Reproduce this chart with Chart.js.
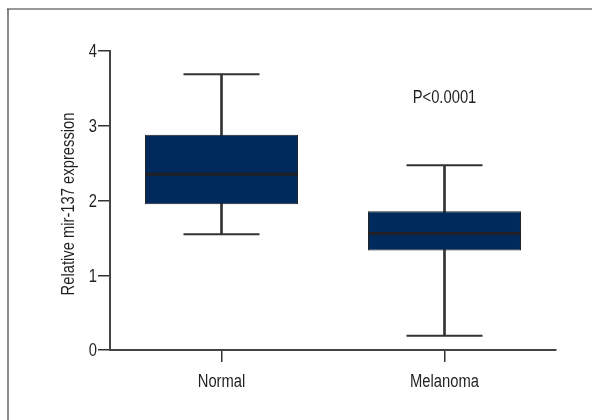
<!DOCTYPE html>
<html>
<head>
<meta charset="utf-8">
<script src="https://cdn.jsdelivr.net/npm/chart.js@4/dist/chart.umd.min.js"></script>
<style>
  html, body { margin: 0; padding: 0; background: #ffffff; }
  #wrap { width: 592px; height: 420px; position: relative; }
</style>
</head>
<body>
<div id="wrap"><canvas id="c" width="592" height="420"></canvas></div>
<script>
// ---- data ----
const categories = ['Normal', 'Melanoma'];
const whiskerMin = [1.55, 0.19];
const quartile1 = [1.95, 1.33];
const medians = [2.35, 1.56];
const quartile3 = [2.88, 1.855];
const whiskerMax = [3.69, 2.47];
const yTicks = [0, 1, 2, 3, 4];
const yTitle = 'Relative mir-137 expression';
const pLabel = 'P<0.0001';
const pLabelCategory = 1;
const pLabelValue = 3.30;

const FONT_FAMILY = '"Liberation Sans", Arial, sans-serif';
const FONT_SIZE = 18;
const NARROW = 0.82;   // horizontal compression to mimic a condensed face
const TEXT = '#231f20';
const NAVY = '#002a5c';

function narrowText(ctx, text, x, y, align, rotation) {
  ctx.save();
  ctx.translate(x, y);
  if (rotation) ctx.rotate(rotation);
  ctx.scale(NARROW, 1);
  ctx.font = FONT_SIZE + 'px ' + FONT_FAMILY;
  ctx.fillStyle = TEXT;
  ctx.textAlign = align;
  ctx.textBaseline = 'alphabetic';
  ctx.fillText(text, 0, 0);
  ctx.restore();
}

const framePlugin = {
  id: 'frame',
  beforeDraw(chart) {
    const ctx = chart.ctx;
    ctx.save();
    ctx.strokeStyle = '#8a8a8a';
    ctx.lineWidth = 2;
    ctx.beginPath();
    ctx.moveTo(8, 9);
    ctx.lineTo(8, 420);
    ctx.stroke();
    ctx.strokeStyle = '#333333';
    ctx.lineWidth = 1.2;
    ctx.beginPath();
    ctx.moveTo(7, 9);
    ctx.lineTo(592, 9);
    ctx.stroke();
    ctx.restore();
  }
};

const textPlugin = {
  id: 'texts',
  afterDraw(chart) {
    const ctx = chart.ctx;
    const xs = chart.scales.x;
    const ys = chart.scales.y;
    const capHalf = 6.4;
    // y tick labels
    ys.ticks.forEach(t => {
      const y = ys.getPixelForValue(t.value);
      narrowText(ctx, String(t.value), ys.right - 13, y + capHalf, 'right', 0);
    });
    // x tick labels
    categories.forEach((c, i) => {
      const x = xs.getPixelForValue(i);
      narrowText(ctx, c, x, xs.top + 37, 'center', 0);
    });
    // y axis title
    narrowText(ctx, yTitle, 74, (chart.chartArea.top + chart.chartArea.bottom) / 2 + 3.5, 'center', -Math.PI / 2);
    // significance label
    narrowText(ctx, pLabel, xs.getPixelForValue(pLabelCategory), ys.getPixelForValue(pLabelValue), 'center', 0);
  }
};

new Chart(document.getElementById('c'), {
  type: 'bar',
  data: {
    labels: categories,
    datasets: [
      {
        type: 'line',
        label: 'median',
        data: medians,
        showLine: false,
        pointStyle: 'line',
        pointRadius: 76.5,
        pointHoverRadius: 76.5,
        borderColor: '#1f1f24',
        borderWidth: 3,
        clip: false,
        order: 0
      },
      {
        type: 'line',
        label: 'max cap',
        data: whiskerMax,
        showLine: false,
        pointStyle: 'line',
        pointRadius: 38,
        pointHoverRadius: 38,
        borderColor: '#333333',
        borderWidth: 2,
        clip: false,
        order: 0
      },
      {
        type: 'line',
        label: 'min cap',
        data: whiskerMin,
        showLine: false,
        pointStyle: 'line',
        pointRadius: 38,
        pointHoverRadius: 38,
        borderColor: '#333333',
        borderWidth: 2,
        clip: false,
        order: 0
      },
      {
        label: 'box',
        data: categories.map((c, i) => [quartile1[i], quartile3[i]]),
        backgroundColor: NAVY,
        borderColor: '#222222',
        borderWidth: 1,
        borderSkipped: false,
        grouped: false,
        categoryPercentage: 1,
        barPercentage: 0.686,
        order: 1
      },
      {
        label: 'whisker',
        data: categories.map((c, i) => [whiskerMin[i], whiskerMax[i]]),
        backgroundColor: '#333333',
        borderWidth: 0,
        grouped: false,
        barThickness: 2,
        order: 2
      }
    ]
  },
  options: {
    responsive: false,
    animation: false,
    layout: { autoPadding: false, padding: { left: 0, right: 36, top: 51, bottom: 0 } },
    plugins: {
      legend: { display: false },
      tooltip: { enabled: false }
    },
    scales: {
      x: {
        type: 'category',
        offset: true,
        grid: {
          offset: false,
          drawOnChartArea: false,
          drawTicks: true,
          tickLength: 12,
          color: '#333333',
          lineWidth: 1.5
        },
        border: { display: true, color: '#444444', width: 2 },
        ticks: { display: false },
        afterFit(scale) { scale.height = 70; }
      },
      y: {
        min: 0,
        max: 4,
        afterBuildTicks(scale) { scale.ticks = yTicks.map(v => ({ value: v })); },
        grid: {
          drawOnChartArea: false,
          drawTicks: true,
          tickLength: 12,
          color: '#333333',
          lineWidth: 1.5
        },
        border: { display: true, color: '#444444', width: 2 },
        ticks: { display: false },
        afterFit(scale) { scale.width = 110; }
      }
    }
  },
  plugins: [framePlugin, textPlugin]
});
</script>
</body>
</html>
